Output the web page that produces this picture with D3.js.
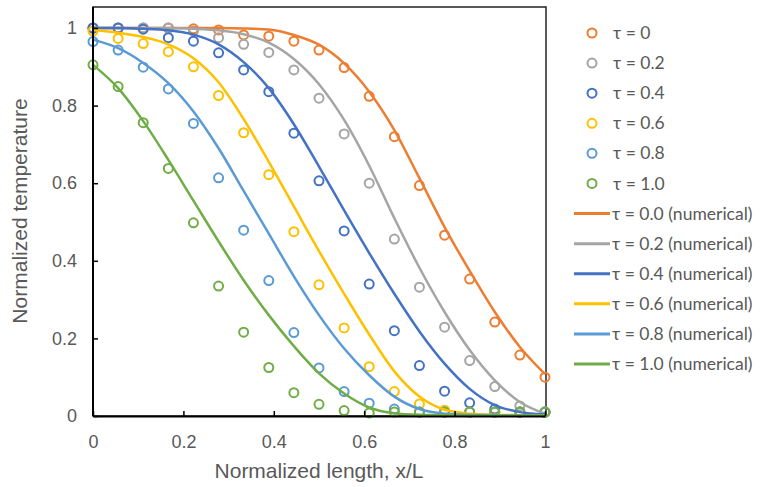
<!DOCTYPE html>
<html><head><meta charset="utf-8">
<script src="https://cdn.jsdelivr.net/npm/d3@7"></script>
<style>body{margin:0;background:#fff}svg{display:block}</style>
</head><body><svg id="c" width="760" height="487"></svg>
<script>
const xPts = [0,0.0556,0.1111,0.1667,0.2222,0.2778,0.3333,0.3889,0.4444,0.5,0.5556,0.6111,0.6667,0.7222,0.7778,0.8333,0.8889,0.9444,1];
const markerLabels = ["τ = 0","τ = 0.2","τ = 0.4","τ = 0.6","τ = 0.8","τ = 1.0"];
const lineLabels = ["τ = 0.0 (numerical)","τ = 0.2 (numerical)","τ = 0.4 (numerical)","τ = 0.6 (numerical)","τ = 0.8 (numerical)","τ = 1.0 (numerical)"];
const colors = ["#ED7D31","#A5A5A5","#4472C4","#FFC000","#5B9BD5","#70AD47"];
const tau0  = [1,1,1,1,0.998,0.995,0.982,0.979,0.966,0.943,0.898,0.824,0.72,0.594,0.466,0.353,0.242,0.157,0.1];
const tau02 = [1,1,1,1,0.992,0.975,0.958,0.937,0.892,0.819,0.727,0.6,0.456,0.332,0.229,0.143,0.076,0.026,0.01];
const tau04 = [1,1,0.997,0.975,0.966,0.936,0.892,0.836,0.729,0.606,0.477,0.34,0.22,0.13,0.064,0.034,0.018,0.01,0.01];
const tau06 = [0.992,0.973,0.96,0.939,0.9,0.826,0.73,0.622,0.475,0.338,0.227,0.127,0.063,0.031,0.015,0.01,0.01,0.01,0.01];
const tau08 = [0.965,0.943,0.899,0.843,0.754,0.614,0.479,0.349,0.215,0.124,0.063,0.033,0.018,0.01,0.01,0.01,0.01,0.01,0.01];
const tau10 = [0.905,0.849,0.756,0.638,0.498,0.335,0.216,0.125,0.06,0.03,0.014,0.008,0.01,0.01,0.01,0.01,0.01,0.01,0.01];
const num0  = [1,1,1,1,1,1,0.999,0.996,0.982,0.957,0.909,0.836,0.737,0.613,0.487,0.374,0.268,0.178,0.108];
const num02 = [1,1,1,1,0.998,0.994,0.984,0.962,0.92,0.855,0.763,0.645,0.51,0.382,0.268,0.17,0.092,0.036,0.006];
const num04 = [1,1,0.998,0.994,0.983,0.958,0.912,0.845,0.752,0.643,0.53,0.42,0.315,0.218,0.135,0.07,0.028,0.01,0.004];
const num06 = [0.995,0.988,0.977,0.958,0.922,0.86,0.765,0.655,0.54,0.425,0.315,0.21,0.115,0.05,0.016,0.006,0.003,0.002,0.001];
const num08 = [0.97,0.948,0.91,0.858,0.785,0.69,0.58,0.47,0.36,0.26,0.174,0.105,0.05,0.018,0.006,0.003,0.002,0.001,0.001];
const num10 = [0.905,0.845,0.76,0.66,0.555,0.45,0.35,0.26,0.18,0.11,0.058,0.022,0.007,0.003,0.002,0.001,0.001,0.001,0.001];
const tickVals = [0,0.2,0.4,0.6,0.8,1];

const markerSeries = [tau0,tau02,tau04,tau06,tau08,tau10];
const lineSeries = [num0,num02,num04,num06,num08,num10];

const svg = d3.select("#c");
const x = d3.scaleLinear().domain([0,1]).range([93,545]);
const y = d3.scaleLinear().domain([0,1]).range([416,28]);
const yTop = 7;
const axisFont = "'Liberation Sans', Arial, sans-serif";

// plot frame
svg.append("rect").attr("x",93).attr("y",yTop).attr("width",453).attr("height",416-yTop)
  .attr("fill","none").attr("stroke","#222").attr("stroke-width",1.5);

// markers
markerSeries.forEach((s,k)=>{
  svg.append("g").selectAll("circle").data(s).join("circle")
    .attr("cx",(d,i)=>x(xPts[i])).attr("cy",d=>y(d)).attr("r",4.5)
    .attr("fill","none").attr("stroke",colors[k]).attr("stroke-width",2);
});
// lines
const line = d3.line().x((d,i)=>x(xPts[i])).y(d=>y(d)).curve(d3.curveMonotoneX);
lineSeries.forEach((s,k)=>{
  svg.append("path").datum(s).attr("d",line).attr("fill","none")
    .attr("stroke",colors[k]).attr("stroke-width",2.5);
});

// axes
const fmt = d3.format("~g");
const gy = svg.append("g").attr("transform","translate(93,0)")
  .call(d3.axisLeft(y).tickValues(tickVals).tickFormat(fmt).tickSizeInner(-5).tickSizeOuter(0).tickPadding(16));
gy.select(".domain").attr("d","M0,"+yTop+"V416").attr("stroke","#000").attr("stroke-width",2);
const gx = svg.append("g").attr("transform","translate(0,416)")
  .call(d3.axisBottom(x).tickValues(tickVals).tickFormat(fmt).tickSizeInner(-5).tickSizeOuter(0).tickPadding(19));
gx.select(".domain").attr("stroke","#000").attr("stroke-width",2);
[gx,gy].forEach(g=>{
  g.selectAll(".tick line").attr("stroke","#000").attr("stroke-width",1.5);
  g.selectAll(".tick text").attr("fill","#595959").style("font-family",axisFont).style("font-size","18px");
});

// axis titles
svg.append("text").attr("x",319).attr("y",478).attr("text-anchor","middle")
  .attr("fill","#595959").style("font-family",axisFont).style("font-size","21px")
  .text("Normalized length, x/L");
svg.append("text").attr("transform","translate(27,211) rotate(-90)").attr("text-anchor","middle")
  .attr("fill","#595959").style("font-family",axisFont).style("font-size","21px")
  .text("Normalized temperature");

// legend
const legFont = "Lato, 'Open Sans', sans-serif";
const rowY = d3.scaleLinear().domain([0,11]).range([33,364]);
markerLabels.forEach((t,k)=>{
  const yy = rowY(k);
  svg.append("circle").attr("cx",592).attr("cy",yy).attr("r",4.5).attr("fill","none")
    .attr("stroke",colors[k]).attr("stroke-width",2);
  svg.append("text").attr("x",613).attr("y",yy).attr("dy","0.35em").attr("fill","#595959")
    .style("font-family",legFont).style("font-size","17.5px").text(t);
});
lineLabels.forEach((t,k)=>{
  const yy = rowY(k+6);
  svg.append("line").attr("x1",574).attr("x2",610).attr("y1",yy).attr("y2",yy)
    .attr("stroke",colors[k]).attr("stroke-width",3);
  svg.append("text").attr("x",612).attr("y",yy).attr("dy","0.35em").attr("fill","#595959")
    .style("font-family",legFont).style("font-size","17.5px").text(t);
});
</script></body></html>
